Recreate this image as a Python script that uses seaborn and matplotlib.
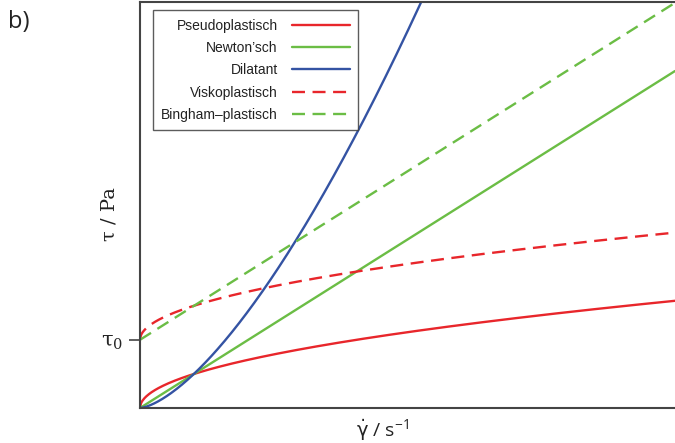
import numpy as np
import matplotlib
matplotlib.use("Agg")
import matplotlib.pyplot as plt
import seaborn as sns
import pandas as pd

# model parameters (axis units 0..10)
labels = ["Pseudoplastisch", "Newton’sch", "Dilatant", "Viskoplastisch", "Bingham\u2012plastisch"]
colors = ["#e8262b", "#6bbd45", "#3453a3", "#e8262b", "#6bbd45"]
dashed = [False, False, False, True, True]
tau0 = [0.0, 0.0, 0.0, 1.68, 1.68]
k_vals = [0.835, 0.83, 0.83, 0.835, 0.83]
n_vals = [0.5, 1.0, 1.5, 0.5, 1.0]
x_max = 10.0
y_max = 10.0

sns.set_theme(style="white")
plt.rcParams["font.family"] = ["Liberation Sans", "DejaVu Sans"]

fig = plt.figure(figsize=(6.75, 4.43), dpi=100)
ax = fig.add_axes([140 / 675, 1 - 408 / 443, 535 / 675, 406 / 443])

x = np.linspace(0, x_max, 600)
rows = []
for lab, t0, k, n in zip(labels, tau0, k_vals, n_vals):
    rows.append(pd.DataFrame({"x": x, "y": t0 + k * x ** n, "model": lab}))
df = pd.concat(rows, ignore_index=True)

for lab, col, d in zip(labels, colors, dashed):
    sub = df[df["model"] == lab]
    ls = (0, (5.5, 3.2)) if d else "-"
    sns.lineplot(data=sub, x="x", y="y", ax=ax, color=col, linestyle=ls,
                 linewidth=1.7, label=lab)

ax.set_xlim(0, x_max)
ax.set_ylim(0, y_max)
ax.set_xticks([])
ax.set_yticks([tau0[3]])
ax.set_yticklabels(["τ$_\\mathregular{0}$"], fontsize=15,
                   family=["DejaVu Serif", "DejaVu Sans"])
ax.tick_params(axis="y", left=True, length=8, width=1.2, color="#444444", pad=4)

for side in ["left", "bottom", "top"]:
    ax.spines[side].set_color("#444444")
    ax.spines[side].set_linewidth(1.5)
ax.spines["right"].set_visible(False)

ax.set_xlabel(r"$\dot{\mathrm{\gamma}}$ / s$^{\mathregular{-1}}$", fontsize=14, color="#222222",
              family=["Open Sans", "DejaVu Sans"])
ax.xaxis.set_label_coords(0.454, -0.022, transform=ax.transAxes)
ax.xaxis.label.set_va("top")
ax.set_ylabel("τ / Pa", fontsize=14, color="#222222",
              family=["DejaVu Serif", "DejaVu Sans"])
ax.yaxis.set_label_coords(-0.04, 0.477)

leg = ax.legend(loc="upper left", bbox_to_anchor=(0.016, 0.99), markerfirst=False,
                frameon=True, fancybox=False, fontsize=10, handlelength=4.2,
                labelspacing=0.6, borderpad=0.6, handletextpad=1.0, borderaxespad=0.3)
leg.get_frame().set_edgecolor("#333333")
leg.get_frame().set_linewidth(1.0)
for t in leg.get_texts():
    t.set_ha("right")
    t.set_color("#222222")
leg._legend_box.align = "right"

fig.text(8 / 675, 1 - 22 / 443, "b)", fontsize=17, color="#222222",
         family=["Open Sans", "DejaVu Sans"], va="center")

fig.savefig("out.png", dpi=100)
